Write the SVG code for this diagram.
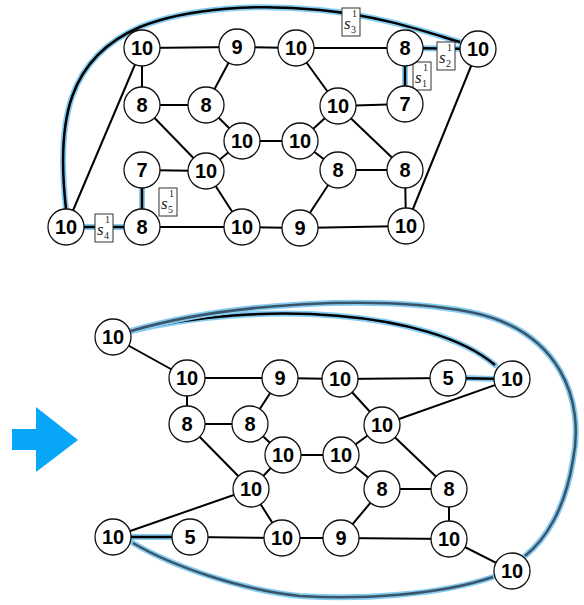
<svg xmlns="http://www.w3.org/2000/svg" width="584" height="605" viewBox="0 0 584 605">
<style>
.e{stroke:#000;stroke-width:2;fill:none}
.hb{stroke:#86ccf2;stroke-width:6;fill:none;stroke-linecap:round}
.hk{stroke:#000;stroke-width:2.5;fill:none}
.ho{stroke:#3c5468;stroke-width:2.5;fill:none}
.n circle{fill:#fff;stroke:#111;stroke-width:1.3}
.n text{font-family:"Liberation Sans",Arial,sans-serif;font-weight:bold;font-size:20px;text-anchor:middle}
.lb rect{fill:#fff;stroke:#333;stroke-width:1}
.lb text{font-family:"Liberation Serif","Times New Roman",serif;fill:#222}
.s{font-style:italic;font-size:17px}
.i{font-size:10px}
</style>
<g id="connectors">
<path class="hb" d="M66,209 C56,120 68,58 140,27 C190,7 260,4 320,10 C380,16 420,30 460,42"/>
<path class="hk" d="M66,209 C56,120 68,58 140,27 C190,7 260,4 320,10 C380,16 420,30 460,42"/>
<line class="hb" x1="405" y1="48" x2="478" y2="49"/>
<line class="hk" x1="405" y1="48" x2="478" y2="49"/>
<line class="hb" x1="405" y1="66" x2="405" y2="86"/>
<line class="hk" x1="405" y1="48" x2="405" y2="104"/>
<line class="hb" x1="142" y1="188" x2="142" y2="209"/>
<line class="hk" x1="142" y1="170" x2="142" y2="227"/>
<line class="hb" x1="84" y1="227" x2="124" y2="227"/>
<line class="hk" x1="66" y1="227" x2="142" y2="227"/>
<line class="e" x1="142" y1="48" x2="237" y2="47"/>
<line class="e" x1="237" y1="47" x2="296" y2="48"/>
<line class="e" x1="296" y1="48" x2="405" y2="48"/>
<line class="e" x1="142" y1="48" x2="142" y2="105"/>
<line class="e" x1="142" y1="48" x2="66" y2="227"/>
<line class="e" x1="237" y1="47" x2="206" y2="105"/>
<line class="e" x1="142" y1="105" x2="206" y2="105"/>
<line class="e" x1="142" y1="105" x2="206" y2="171"/>
<line class="e" x1="206" y1="105" x2="242" y2="141"/>
<line class="e" x1="242" y1="141" x2="300" y2="141"/>
<line class="e" x1="242" y1="141" x2="206" y2="171"/>
<line class="e" x1="142" y1="170" x2="206" y2="171"/>
<line class="e" x1="206" y1="171" x2="242" y2="227"/>
<line class="e" x1="142" y1="227" x2="242" y2="227"/>
<line class="e" x1="242" y1="227" x2="300" y2="228"/>
<line class="e" x1="300" y1="228" x2="338" y2="170"/>
<line class="e" x1="300" y1="228" x2="406" y2="226"/>
<line class="e" x1="300" y1="141" x2="338" y2="170"/>
<line class="e" x1="300" y1="141" x2="338" y2="106"/>
<line class="e" x1="296" y1="48" x2="338" y2="106"/>
<line class="e" x1="338" y1="106" x2="405" y2="104"/>
<line class="e" x1="338" y1="106" x2="405" y2="170"/>
<line class="e" x1="338" y1="170" x2="405" y2="170"/>
<line class="e" x1="405" y1="170" x2="406" y2="226"/>
<line class="e" x1="406" y1="226" x2="478" y2="49"/>
<path class="hb" d="M131,331 C260,300 430,310 495,365"/>
<path class="hk" d="M131,331 C260,300 430,310 495,365"/>
<path class="hb" d="M131,331 C230,302 380,295 470,312 C560,330 585,400 573,460 C565,510 545,540 525,556"/>
<path class="ho" d="M131,331 C230,302 380,295 470,312 C560,330 585,400 573,460 C565,510 545,540 525,556"/>
<path class="hb" d="M493,577 C440,595 360,600 300,596 C240,590 170,565 133,543"/>
<path class="ho" d="M493,577 C440,595 360,600 300,596 C240,590 170,565 133,543"/>
<line class="hb" x1="466" y1="378" x2="494" y2="379"/>
<line class="hk" x1="448" y1="378" x2="512" y2="379"/>
<line class="hb" x1="131" y1="537" x2="172" y2="537"/>
<line class="hk" x1="113" y1="537" x2="190" y2="537"/>
<line class="e" x1="113" y1="337" x2="187" y2="378"/>
<line class="e" x1="187" y1="378" x2="280" y2="378"/>
<line class="e" x1="280" y1="378" x2="340" y2="379"/>
<line class="e" x1="340" y1="379" x2="448" y2="378"/>
<line class="e" x1="187" y1="378" x2="187" y2="424"/>
<line class="e" x1="280" y1="378" x2="250" y2="424"/>
<line class="e" x1="187" y1="424" x2="250" y2="424"/>
<line class="e" x1="187" y1="424" x2="251" y2="489"/>
<line class="e" x1="250" y1="424" x2="283" y2="455"/>
<line class="e" x1="283" y1="455" x2="341" y2="455"/>
<line class="e" x1="283" y1="455" x2="251" y2="489"/>
<line class="e" x1="340" y1="379" x2="382" y2="425"/>
<line class="e" x1="382" y1="425" x2="512" y2="379"/>
<line class="e" x1="382" y1="425" x2="341" y2="455"/>
<line class="e" x1="382" y1="425" x2="449" y2="489"/>
<line class="e" x1="341" y1="455" x2="382" y2="489"/>
<line class="e" x1="382" y1="489" x2="449" y2="489"/>
<line class="e" x1="251" y1="489" x2="113" y2="537"/>
<line class="e" x1="251" y1="489" x2="282" y2="538"/>
<line class="e" x1="190" y1="537" x2="282" y2="538"/>
<line class="e" x1="282" y1="538" x2="341" y2="538"/>
<line class="e" x1="341" y1="538" x2="449" y2="539"/>
<line class="e" x1="382" y1="489" x2="341" y2="538"/>
<line class="e" x1="449" y1="489" x2="449" y2="539"/>
<line class="e" x1="449" y1="539" x2="512" y2="571"/>
</g>
<g id="labels">
<g id="s3" class="lb"><rect x="342" y="8" width="18" height="28"/><text class="s" x="344" y="29">s</text><text class="i" x="352" y="17">1</text><text class="i" x="351" y="33">3</text></g>
<g id="s2" class="lb"><rect x="437" y="42" width="18" height="28"/><text class="s" x="439" y="63">s</text><text class="i" x="447" y="51">1</text><text class="i" x="446" y="67">2</text></g>
<g id="s1" class="lb"><rect x="413" y="62" width="18" height="28"/><text class="s" x="415" y="83">s</text><text class="i" x="423" y="71">1</text><text class="i" x="422" y="87">1</text></g>
<g id="s5" class="lb"><rect x="159" y="188" width="18" height="28"/><text class="s" x="161" y="209">s</text><text class="i" x="169" y="197">1</text><text class="i" x="168" y="213">5</text></g>
<g id="s4" class="lb"><rect x="95" y="214" width="18" height="28"/><text class="s" x="97" y="235">s</text><text class="i" x="105" y="223">1</text><text class="i" x="104" y="239">4</text></g>
</g>
<g id="arrow"><polygon points="12,429 36,429 36,407 78,440 36,472 36,450 12,450" fill="#08a6f6"/></g>
<g id="top-nodes">
<g id="a1" class="n"><circle cx="142" cy="48" r="18"/><text x="142" y="55">10</text></g>
<g id="a2" class="n"><circle cx="237" cy="47" r="18"/><text x="237" y="54">9</text></g>
<g id="a3" class="n"><circle cx="296" cy="48" r="18"/><text x="296" y="55">10</text></g>
<g id="a4" class="n"><circle cx="405" cy="48" r="18"/><text x="405" y="55">8</text></g>
<g id="a5" class="n"><circle cx="478" cy="49" r="18"/><text x="478" y="56">10</text></g>
<g id="b1" class="n"><circle cx="142" cy="105" r="18"/><text x="142" y="112">8</text></g>
<g id="b2" class="n"><circle cx="206" cy="105" r="18"/><text x="206" y="112">8</text></g>
<g id="b3" class="n"><circle cx="338" cy="106" r="18"/><text x="338" y="113">10</text></g>
<g id="b4" class="n"><circle cx="405" cy="104" r="18"/><text x="405" y="111">7</text></g>
<g id="c1" class="n"><circle cx="242" cy="141" r="18"/><text x="242" y="148">10</text></g>
<g id="c2" class="n"><circle cx="300" cy="141" r="18"/><text x="300" y="148">10</text></g>
<g id="d1" class="n"><circle cx="142" cy="170" r="18"/><text x="142" y="177">7</text></g>
<g id="d2" class="n"><circle cx="206" cy="171" r="18"/><text x="206" y="178">10</text></g>
<g id="d3" class="n"><circle cx="338" cy="170" r="18"/><text x="338" y="177">8</text></g>
<g id="d4" class="n"><circle cx="405" cy="170" r="18"/><text x="405" y="177">8</text></g>
<g id="e1" class="n"><circle cx="66" cy="227" r="18"/><text x="66" y="234">10</text></g>
<g id="e2" class="n"><circle cx="142" cy="227" r="18"/><text x="142" y="234">8</text></g>
<g id="e3" class="n"><circle cx="242" cy="227" r="18"/><text x="242" y="234">10</text></g>
<g id="e4" class="n"><circle cx="300" cy="228" r="18"/><text x="300" y="235">9</text></g>
<g id="e5" class="n"><circle cx="406" cy="226" r="18"/><text x="406" y="233">10</text></g>
</g>
<g id="bottom-nodes">
<g id="p1" class="n"><circle cx="113" cy="337" r="18"/><text x="113" y="344">10</text></g>
<g id="p2" class="n"><circle cx="187" cy="378" r="18"/><text x="187" y="385">10</text></g>
<g id="p3" class="n"><circle cx="280" cy="378" r="18"/><text x="280" y="385">9</text></g>
<g id="p4" class="n"><circle cx="340" cy="379" r="18"/><text x="340" y="386">10</text></g>
<g id="p5" class="n"><circle cx="448" cy="378" r="18"/><text x="448" y="385">5</text></g>
<g id="p6" class="n"><circle cx="512" cy="379" r="18"/><text x="512" y="386">10</text></g>
<g id="q1" class="n"><circle cx="187" cy="424" r="18"/><text x="187" y="431">8</text></g>
<g id="q2" class="n"><circle cx="250" cy="424" r="18"/><text x="250" y="431">8</text></g>
<g id="q3" class="n"><circle cx="382" cy="425" r="18"/><text x="382" y="432">10</text></g>
<g id="r1" class="n"><circle cx="283" cy="455" r="18"/><text x="283" y="462">10</text></g>
<g id="r2" class="n"><circle cx="341" cy="455" r="18"/><text x="341" y="462">10</text></g>
<g id="s1n" class="n"><circle cx="251" cy="489" r="18"/><text x="251" y="496">10</text></g>
<g id="s2n" class="n"><circle cx="382" cy="489" r="18"/><text x="382" y="496">8</text></g>
<g id="s3n" class="n"><circle cx="449" cy="489" r="18"/><text x="449" y="496">8</text></g>
<g id="t1" class="n"><circle cx="113" cy="537" r="18"/><text x="113" y="544">10</text></g>
<g id="t2" class="n"><circle cx="190" cy="537" r="18"/><text x="190" y="544">5</text></g>
<g id="t3" class="n"><circle cx="282" cy="538" r="18"/><text x="282" y="545">10</text></g>
<g id="t4" class="n"><circle cx="341" cy="538" r="18"/><text x="341" y="545">9</text></g>
<g id="t5" class="n"><circle cx="449" cy="539" r="18"/><text x="449" y="546">10</text></g>
<g id="u1" class="n"><circle cx="512" cy="571" r="18"/><text x="512" y="578">10</text></g>
</g>
</svg>
